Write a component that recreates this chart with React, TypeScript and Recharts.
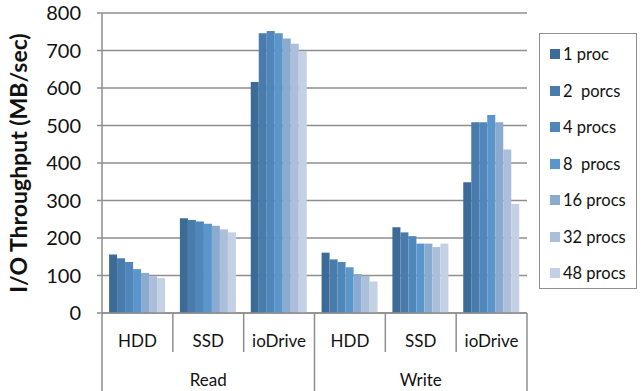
import React from 'react';
import { BarChart, Bar, XAxis, YAxis, CartesianGrid } from 'recharts';

// storage devices on the x axis, two groups of three
const devices = ['HDD', 'SSD', 'ioDrive', 'HDD', 'SSD', 'ioDrive'];
const groups = ['Read', 'Read', 'Read', 'Write', 'Write', 'Write'];

// throughput (MB/sec) per process count, one value per device column
const proc1 = [156, 253, 616, 161, 229, 349];
const proc2 = [146, 248, 746, 143, 215, 509];
const proc4 = [136, 244, 752, 136, 205, 509];
const proc8 = [117, 238, 746, 122, 185, 528];
const proc16 = [107, 233, 732, 104, 185, 509];
const proc32 = [98, 223, 718, 99, 176, 436];
const proc48 = [93, 215, 699, 84, 185, 291];

const seriesNames = ['1 proc', '2  porcs', '4 procs', '8  procs', '16 procs', '32 procs', '48 procs'];
const seriesValues = [proc1, proc2, proc4, proc8, proc16, proc32, proc48];
const colors = ['#3d6b97', '#4a7bad', '#4f87bb', '#5a95cb', '#8aaad0', '#abbfdb', '#c4d0e3'];
const yTicks = [0, 100, 200, 300, 400, 500, 600, 700, 800];

const data = devices.map((d, i) => {
  const row: Record<string, string | number> = { name: d, group: groups[i] };
  seriesValues.forEach((s, k) => {
    row['s' + k] = s[i];
  });
  return row;
});

const FONT = 'Lato, "Open Sans", sans-serif';
const PLOT_LEFT = 102;
const PLOT_RIGHT = 527;
const PLOT_BOTTOM = 313;
const BAND = (PLOT_RIGHT - PLOT_LEFT) / devices.length;
const GRID = '#8e8e8e';

const DeviceTick = (props: any) => {
  const { x, payload } = props;
  const i = payload.index;
  const left = x - BAND / 2;
  const groupStart = i === 0 || i === 3;
  return (
    <g>
      <line x1={left} y1={PLOT_BOTTOM} x2={left} y2={391} stroke={GRID} strokeWidth={1.5} strokeDasharray={groupStart ? undefined : '39 100'} />
      {i === devices.length - 1 && (
        <line x1={x + BAND / 2} y1={PLOT_BOTTOM} x2={x + BAND / 2} y2={391} stroke={GRID} strokeWidth={1.5} />
      )}
      <text x={x} y={347} textAnchor="middle" fontSize={17} fontFamily={FONT} fill="#111">
        {payload.value}
      </text>
      {(i === 1 || i === 4) && (
        <text x={x} y={386} textAnchor="middle" fontSize={17} fontFamily={FONT} fill="#111">
          {groups[i]}
        </text>
      )}
    </g>
  );
};

const LegendBox = () => (
  <div
    style={{
      position: 'absolute',
      left: 539,
      top: 33,
      width: 96,
      height: 254,
      border: '1.5px solid #8e8e8e',
      fontFamily: FONT,
      fontSize: 16.5,
      color: '#111',
    }}
  >
    {seriesNames.map((n, k) => (
      <div
        key={n}
        style={{ position: 'absolute', left: 10, top: 9 + k * 36.5, display: 'flex', alignItems: 'center', lineHeight: '22px' }}
      >
        <span style={{ width: 10, height: 10, background: colors[k], marginRight: 3, display: 'inline-block' }} />
        <span style={{ whiteSpace: 'pre' }}>{n}</span>
      </div>
    ))}
  </div>
);

const App = () => {
  return (
    <div style={{ position: 'absolute', left: 0, top: 0, width: 644, height: 391, background: '#fff' }}>
      <BarChart
        width={644}
        height={391}
        data={data}
        margin={{ top: 13, right: 644 - PLOT_RIGHT, left: 0, bottom: 0 }}
        barCategoryGap="10%"
        barGap={0}
      >
        <CartesianGrid vertical={false} stroke={GRID} strokeWidth={1.5} />
        <XAxis
          dataKey="name"
          height={391 - PLOT_BOTTOM}
          axisLine={{ stroke: GRID, strokeWidth: 1.5 }}
          tickLine={false}
          tick={<DeviceTick />}
          interval={0}
        />
        <YAxis
          width={PLOT_LEFT}
          domain={[0, 800]}
          ticks={yTicks}
          interval={0}
          axisLine={{ stroke: GRID, strokeWidth: 1.5 }}
          tickLine={{ stroke: GRID, strokeWidth: 1.5 }}
          tickSize={5}
          tickMargin={16}
          tick={{ fontSize: 20, fontFamily: FONT, fill: '#111' }}
          label={{
            value: 'I/O Throughput (MB/sec)',
            angle: -90,
            position: 'insideLeft',
            dx: 14,
            dy: 0,
            style: { textAnchor: 'middle', fontSize: 23, fontWeight: 'bold', fontFamily: FONT, fill: '#111' },
          }}
        />
        {seriesNames.map((n, k) => (
          <Bar key={n} dataKey={'s' + k} name={n} fill={colors[k]} isAnimationActive={false} />
        ))}
      </BarChart>
      <LegendBox />
    </div>
  );
};

export default App;
